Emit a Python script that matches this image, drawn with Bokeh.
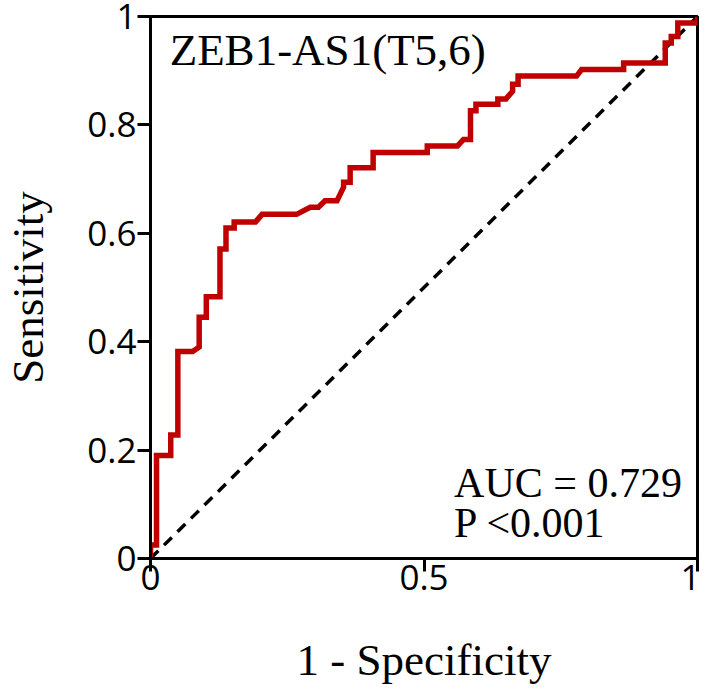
from bokeh.plotting import figure
from bokeh.models import Label, FixedTicker
from bokeh.embed import file_html
from bokeh.resources import INLINE

# ROC curve points (1 - specificity, sensitivity)
fpr = [0, 0, 0.011, 0.011, 0.037, 0.037, 0.050, 0.050, 0.077, 0.089, 0.089, 0.102, 0.102,
       0.127, 0.127, 0.138, 0.138, 0.153, 0.153, 0.192, 0.204, 0.267, 0.292, 0.307, 0.319,
       0.341, 0.353, 0.353, 0.365, 0.365, 0.407, 0.407, 0.506, 0.506, 0.561, 0.572, 0.585,
       0.585, 0.595, 0.595, 0.635, 0.635, 0.650, 0.662, 0.662, 0.672, 0.672, 0.779, 0.788,
       0.865, 0.865, 0.941, 0.941, 0.952, 0.952, 0.964, 0.964, 1.0, 1.0]
tpr = [0, 0.025, 0.025, 0.19, 0.19, 0.228, 0.228, 0.382, 0.382, 0.39, 0.445, 0.445, 0.483,
       0.483, 0.571, 0.571, 0.61, 0.61, 0.621, 0.621, 0.635, 0.635, 0.648, 0.648, 0.66,
       0.66, 0.685, 0.694, 0.694, 0.721, 0.721, 0.749, 0.749, 0.761, 0.761, 0.773, 0.773,
       0.826, 0.826, 0.838, 0.838, 0.848, 0.848, 0.862, 0.875, 0.875, 0.89, 0.89, 0.902,
       0.902, 0.914, 0.914, 0.951, 0.951, 0.963, 0.963, 0.988, 0.988, 1.0]

diag_x = [0, 1]
diag_y = [0, 1]

x_tick_vals = [0, 0.5, 1]
x_tick_labels = ["0", "0.5", "1"]
y_tick_vals = [0, 0.2, 0.4, 0.6, 0.8, 1]
y_tick_labels = ["0", "0.2", "0.4", "0.6", "0.8", "1"]

title_text = "ZEB1-AS1(T5,6)"
auc_text = "AUC = 0.729"
p_text = "P <0.001"
x_label = "1 - Specificity"
y_label = "Sensitivity"

SERIF = "Liberation Serif"
SANS = "Open Sans"

p = figure(width=700, height=687, output_backend="svg", toolbar_location=None,
           x_range=(0, 1), y_range=(0, 1),
           min_border_left=145, min_border_right=3, min_border_top=16, min_border_bottom=127)
p.background_fill_color = "white"
p.border_fill_color = "white"
p.grid.visible = False
p.outline_line_color = "black"
p.outline_line_width = 3

p.line(diag_x, diag_y, line_color="black", line_width=3.5, line_dash="11 8")
p.line(fpr, tpr, line_color="#C00000", line_width=5.5, line_join="miter")

for ax, vals, labs, lab in ((p.xaxis[0], x_tick_vals, x_tick_labels, x_label),
                            (p.yaxis[0], y_tick_vals, y_tick_labels, y_label)):
    ax.ticker = FixedTicker(ticks=vals)
    ax.major_label_overrides = {v: l for v, l in zip(vals, labs)}
    ax.minor_tick_line_color = None
    ax.major_tick_in = 0
    ax.major_tick_out = 13
    ax.major_tick_line_width = 3
    ax.major_tick_line_color = "black"
    ax.axis_line_width = 3
    ax.axis_line_color = "black"
    ax.major_label_text_font = SANS
    ax.major_label_text_font_size = "35px"
    ax.major_label_text_color = "black"
    ax.axis_label = lab
    ax.axis_label_text_font = SERIF
    ax.axis_label_text_font_size = "45px"
    ax.axis_label_text_font_style = "normal"
    ax.axis_label_text_color = "black"

p.xaxis[0].major_label_standoff = -7
p.xaxis[0].axis_label_standoff = 42
p.yaxis[0].major_label_standoff = 1
p.yaxis[0].axis_label_standoff = 31

p.add_layout(Label(x=0.035, y=0.938, text=title_text, text_font=SERIF,
                   text_font_size="45px", text_color="black", text_baseline="alphabetic"))
p.add_layout(Label(x=0.555, y=0.140, text=auc_text, text_font=SERIF,
                   text_font_size="42px", text_color="black", text_baseline="alphabetic"))
p.add_layout(Label(x=0.555, y=0.066, text=p_text, text_font=SERIF,
                   text_font_size="42px", text_color="black", text_baseline="alphabetic"))

open("out.html", "w").write(file_html(p, INLINE))
